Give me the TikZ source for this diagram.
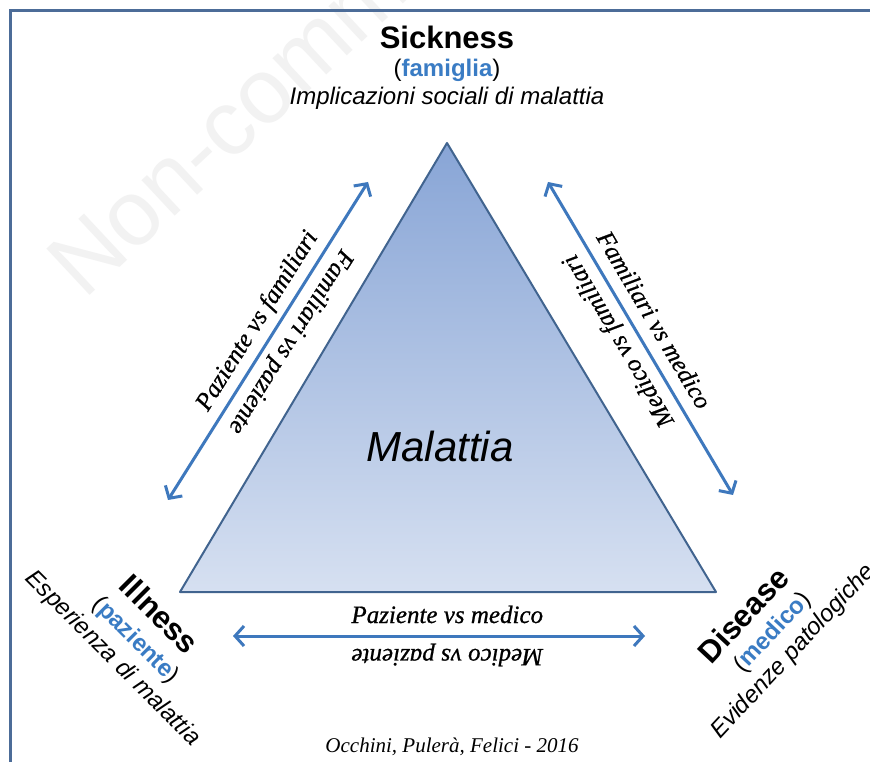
\documentclass[tikz,border=0pt]{standalone}
\usepackage{fontspec}
\setmainfont{Liberation Serif}
\newfontfamily\sansf{Liberation Sans}
\newfontfamily\labf[FakeBold=0.8]{Liberation Serif}
\usetikzlibrary{arrows.meta,calc}
\definecolor{arrowblue}{RGB}{62,120,189}
\definecolor{textblue}{RGB}{58,124,196}
\definecolor{triedge}{RGB}{65,100,143}
\definecolor{frameblue}{RGB}{76,108,152}
\definecolor{tritop}{RGB}{136,165,214}
\definecolor{tribot}{RGB}{214,224,241}
\tikzset{
  dbl/.style={arrowblue, line width=3pt, {Straight Barb[length=9pt,width=20pt]}-{Straight Barb[length=9pt,width=20pt]}},
  lab/.style={font=\labf\itshape\fontsize{25}{25}\selectfont, anchor=base, inner sep=0pt},
  ttl/.style={font=\sansf\bfseries\fontsize{31}{31}\selectfont, anchor=base, inner sep=0pt},
  role/.style={font=\sansf\fontsize{24}{24}\selectfont, anchor=base, inner sep=0pt},
  desc/.style={font=\sansf\itshape\fontsize{24}{24}\selectfont, anchor=base, inner sep=0pt},
}
\begin{document}
\begin{tikzpicture}[x=1pt,y=1pt]
\useasboundingbox (0,0) rectangle (870,761);
\clip (0,0) rectangle (870,761);
\fill[white] (0,0) rectangle (870,761);
% watermark
\node[font=\sansf\fontsize{92}{92}\selectfont, text=black!5, rotate=43, anchor=base west, inner sep=0pt] (wm) at (84,460) {Non-commercial};
% frame
\draw[frameblue, line width=3pt] (10.5,-20) -- (10.5,750.5) -- (890,750.5);
% triangle
\coordinate (apex) at (447,618);
\coordinate (bl) at (180,169);
\coordinate (br) at (716,169);
\path[top color=tritop, bottom color=tribot] (apex) -- (bl) -- (br) -- cycle;
\draw[triedge, line width=2pt, line join=round] (apex) -- (bl) -- (br) -- cycle;
% arrows
\coordinate (l1) at (168,261); \coordinate (l2) at (368,579);
\coordinate (r1) at (548,579); \coordinate (r2) at (733,266);
\coordinate (d1) at (233,125); \coordinate (d2) at (645,125);
\draw[dbl] (l1) -- (l2);
\draw[dbl] (r1) -- (r2);
\draw[dbl] (d1) -- (d2);
% arrow labels
\coordinate (lm) at ($(l1)!0.53!(l2)$);
\node[lab, rotate=57.83] (lo) at ($(lm)!13pt!90:(l2)$) {Paziente vs familiari};
\node[lab, rotate=237.83] (li) at ($(lm)!13pt!-90:(l2)$) {Familiari vs paziente};
\coordinate (rm) at ($(r1)!0.475!(r2)$);
\node[lab, rotate=-59.42] (ro) at ($(rm)!13pt!90:(r2)$) {Familiari vs medico};
\node[lab, rotate=120.58] (ri) at ($(rm)!13pt!-90:(r2)$) {Medico vs familiari};
\coordinate (dm) at ($(d1)!0.52!(d2)$);
\node[lab] (do) at ($(dm)!13pt!90:(d2)$) {Paziente vs medico};
\node[lab, rotate=180] (di) at ($(dm)!13pt!-90:(d2)$) {Medico vs paziente};
% Sickness
\node[ttl] (sick) at (447,712) {Sickness};
\node[role] (fam) at (447,684) {(\textcolor{textblue}{\bfseries famiglia})};
\node[desc] (impl) at (447,656) {Implicazioni sociali di malattia};
% Malattia
\node[font=\sansf\itshape\fontsize{42}{42}\selectfont, anchor=base, inner sep=0pt] (mal) at (440,299) {Malattia};
% Illness
\node[ttl, rotate=-45] (ill) at (152,139) {Illness};
\node[role, rotate=-45] (paz) at (131,116) {(\textcolor{textblue}{\bfseries paziente})};
\node[desc, rotate=-45] (esp) at (108,98) {Esperienza di malattia};
% Disease
\node[ttl, rotate=47] (dis) at (751,138.5) {Disease};
\node[role, rotate=47] (med) at (777.5,124) {(\textcolor{textblue}{\bfseries medico})};
\node[desc, rotate=47] (evi) at (798,105) {Evidenze patologiche};
% citation
\node[font=\itshape\fontsize{21}{21}\selectfont, anchor=base, inner sep=0pt] (cite) at (452,9) {Occhini, Pulerà, Felici - 2016};
\end{tikzpicture}
\end{document}
